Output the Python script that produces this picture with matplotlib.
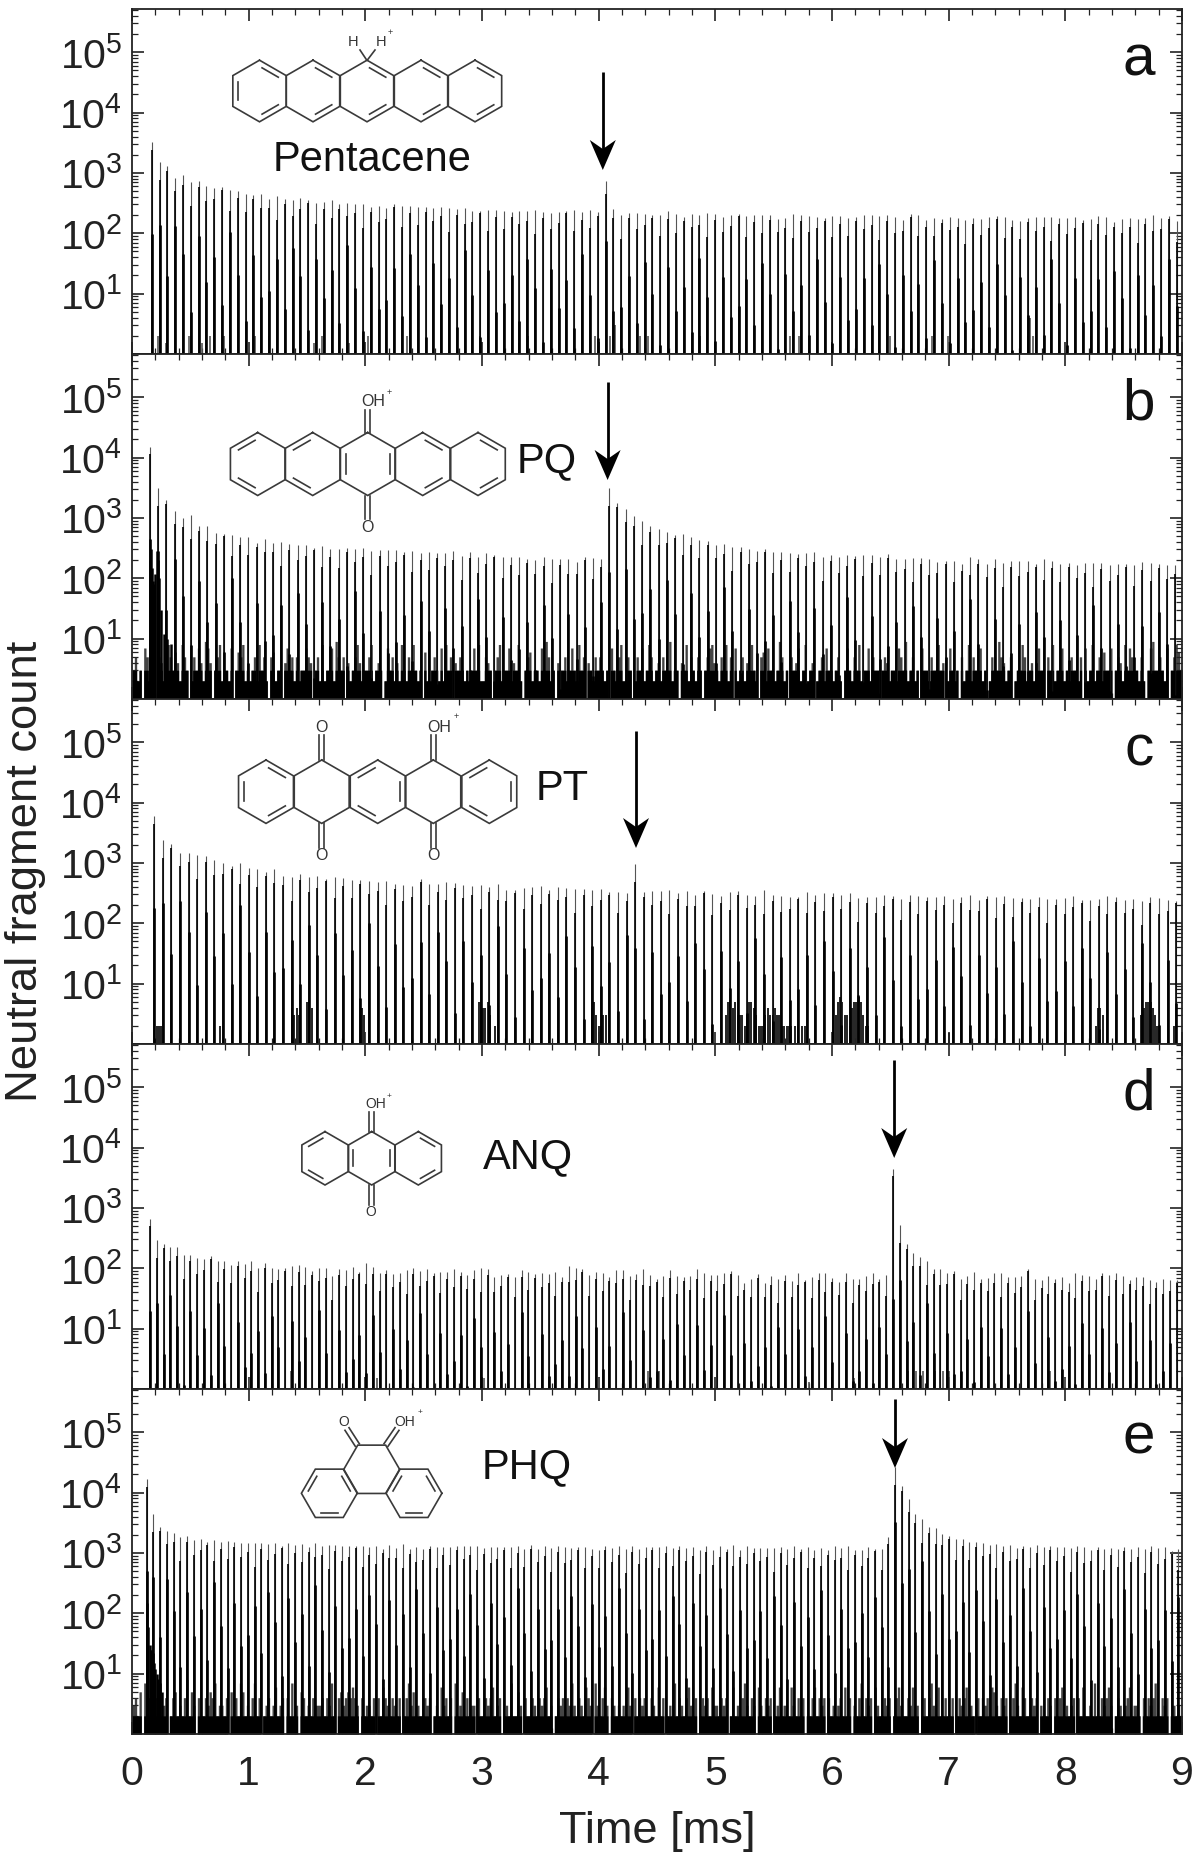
import numpy as np
import matplotlib
matplotlib.use('Agg')
import matplotlib.pyplot as plt
from matplotlib.ticker import LogLocator, MultipleLocator, NullFormatter

plt.rcParams['font.family'] = ['Liberation Sans', 'DejaVu Sans']
plt.rcParams['mathtext.fontset'] = 'custom'
plt.rcParams['mathtext.rm'] = 'Liberation Sans'
plt.rcParams['mathtext.default'] = 'regular'

# peak positions [ms] and heights
a_times = [.169,.236,.303,.370,.437,.504,.571,.638,.705,.772,.840,.907,.974,1.041,1.108,1.175,1.242,1.309,1.376,1.443,
           1.510,1.577,1.644,1.711,1.778,1.845,1.913,1.980,2.047,2.114,2.181,2.248,2.315,2.382,2.449,2.516,2.583,2.650,2.717,2.784,
           2.851,2.918,2.986,3.053,3.120,3.187,3.254,3.321,3.388,3.455,3.522,3.589,3.656,3.723,3.790,3.857,3.924,3.991,4.059,4.126,
           4.193,4.260,4.327,4.394,4.461,4.528,4.595,4.662,4.729,4.796,4.863,4.930,4.997,5.064,5.132,5.199,5.266,5.333,5.400,5.467,
           5.534,5.601,5.668,5.735,5.802,5.869,5.936,6.003,6.070,6.137,6.205,6.272,6.339,6.406,6.473,6.540,6.607,6.674,6.741,6.808,
           6.875,6.942,7.009,7.076,7.143,7.210,7.278,7.345,7.412,7.479,7.546,7.613,7.680,7.747,7.814,7.881,7.948,8.015,8.082,8.149,
           8.216,8.283,8.351,8.418,8.485,8.552,8.619,8.686,8.753,8.820,8.887,8.954]
a_counts = [3230,1500,1290,830,910,720,740,616,570,580,525,505,445,430,445,370,410,375,355,390,
            355,315,335,355,300,317,310,305,277,280,263,300,280,284,273,270,266,273,260,253,
            263,238,238,247,244,232,223,238,232,247,223,217,229,238,244,223,241,226,740,
            256,204,220,215,212,198,204,232,206,185,209,198,217,209,188,204,212,196,204,204,
            198,173,176,209,198,191,185,180,191,191,180,188,198,198,191,201,185,167,209,204,
            167,180,172,188,180,167,180,172,185,193,188,167,158,180,185,185,185,176,176,185,
            167,172,191,185,151,170,180,170,176,198,180,191,158]

b_times = [.154,.224,.295,.365,.435,.506,.576,.646,.716,.787,.857,.927,.998,1.068,1.138,1.209,1.279,1.349,1.419,1.490,
           1.560,1.630,1.701,1.771,1.841,1.912,1.982,2.052,2.122,2.193,2.263,2.333,2.404,2.474,2.544,2.615,2.685,2.755,2.825,2.896,
           2.966,3.036,3.107,3.177,3.247,3.318,3.388,3.458,3.528,3.599,3.669,3.739,3.810,3.880,3.950,4.021,4.091,4.161,4.231,4.302,
           4.372,4.442,4.513,4.583,4.653,4.724,4.794,4.864,4.934,5.005,5.075,5.145,5.216,5.286,5.356,5.427,5.497,5.567,5.637,5.708,
           5.778,5.848,5.919,5.989,6.059,6.130,6.200,6.270,6.340,6.411,6.481,6.551,6.622,6.692,6.762,6.833,6.903,6.973,7.043,7.114,
           7.184,7.254,7.325,7.395,7.465,7.536,7.606,7.676,7.746,7.817,7.887,7.957,8.028,8.098,8.168,8.239,8.309,8.379,8.449,8.520,
           8.590,8.660,8.731,8.801,8.871,8.942]
b_counts = [15000,3100,1990,1320,1000,1120,745,745,565,550,515,475,490,388,450,388,398,367,360,355,
            323,337,304,300,316,305,316,282,290,290,290,272,282,265,272,258,265,282,233,272,
            225,265,246,225,222,225,208,198,225,206,211,211,184,225,219,206,3170,
            1780,1420,1060,880,740,650,590,520,535,480,430,415,355,365,330,335,308,288,303,276,
            270,258,253,262,270,226,244,226,244,236,242,240,226,253,210,205,220,215,210,185,
            195,190,174,226,205,174,210,176,195,195,195,172,210,195,172,178,167,176,178,178,
            167,172,174,167,183,178,172,163,167]

c_times = [.191,.265,.338,.412,.485,.559,.633,.706,.780,.853,.927,1.001,1.074,1.148,1.221,1.295,1.369,1.442,1.516,1.589,
           1.663,1.737,1.810,1.884,1.957,2.031,2.105,2.178,2.252,2.325,2.399,2.473,2.546,2.620,2.693,2.767,2.841,2.914,2.988,3.061,
           3.135,3.209,3.282,3.356,3.429,3.503,3.577,3.650,3.724,3.797,3.871,3.945,4.018,4.092,4.165,4.239,4.313,4.386,4.460,4.533,
           4.607,4.681,4.754,4.828,4.901,4.975,5.049,5.122,5.196,5.269,5.343,5.417,5.490,5.564,5.637,5.711,5.785,5.858,5.932,6.005,
           6.079,6.153,6.226,6.300,6.373,6.447,6.521,6.594,6.668,6.741,6.815,6.889,6.962,7.036,7.109,7.183,7.257,7.330,7.404,7.477,
           7.551,7.625,7.698,7.772,7.845,7.919,7.993,8.066,8.140,8.213,8.287,8.361,8.434,8.508,8.581,8.655,8.729,8.802,8.876,8.949]
c_counts = [5900,2400,2060,1460,1460,1340,1290,1135,1000,890,990,835,795,718,785,617,594,660,594,600,
            550,578,563,524,524,505,484,510,454,432,421,537,447,447,478,460,432,421,432,405,
            447,356,356,390,395,410,356,405,385,376,365,356,372,326,326,318,963,
            326,340,340,357,315,348,298,348,306,287,336,340,298,287,357,298,280,270,276,331,
            298,318,318,292,322,258,270,270,298,283,253,298,280,276,276,283,253,270,298,247,
            283,270,283,258,262,250,270,253,253,262,283,243,247,253,280,270,247,250,238,270,
            258,247,238]

d_times = [.154,.212,.270,.328,.386,.444,.501,.559,.617,.675,.733,.791,.849,.907,.965,1.023,1.080,1.138,1.196,1.254,
           1.312,1.370,1.428,1.486,1.544,1.602,1.659,1.717,1.775,1.833,1.891,1.949,2.007,2.065,2.123,2.181,2.238,2.296,2.354,2.412,
           2.470,2.528,2.586,2.644,2.702,2.760,2.817,2.875,2.933,2.991,3.049,3.107,3.165,3.223,3.281,3.339,3.396,3.454,3.512,3.570,
           3.628,3.686,3.744,3.802,3.860,3.918,3.975,4.033,4.091,4.149,4.207,4.265,4.323,4.381,4.439,4.497,4.554,4.612,4.670,4.728,
           4.786,4.844,4.902,4.960,5.018,5.076,5.133,5.191,5.249,5.307,5.365,5.423,5.481,5.539,5.597,5.655,5.712,5.770,5.828,5.886,
           5.944,6.002,6.060,6.118,6.176,6.234,6.291,6.349,6.407,6.465,6.523,6.581,6.639,6.697,6.755,6.813,6.870,6.928,6.986,7.044,
           7.102,7.160,7.218,7.276,7.334,7.392,7.449,7.507,7.565,7.623,7.681,7.739,7.797,7.855,7.913,7.971,8.028,8.086,8.144,8.202,
           8.260,8.318,8.376,8.434,8.492,8.550,8.607,8.665,8.723,8.781,8.839,8.897,8.955]
d_counts = [665,298,255,224,224,168,164,147,145,158,131,131,113,130,116,130,102,124,102,99,101,111,115,105,90,102,
            100,75,96,94,104,88,121,107,83,94,81,85,94,100,91,96,83,86,88,98,88,76,94,100,96,73,78,81,73,94,
            88,81,83,81,88,73,109,100,96,76,88,85,73,94,94,75,81,96,78,
            67,75,93,74,72,74,96,82,77,76,85,91,77,58,67,80,56,75,67,77,61,82,65,72,85,82,70,60,85,67,67,75,84,67,77,
            4490,530,250,182,154,132,99,96,84,89,67,74,87,67,70,82,85,72,72,75,99,67,63,74,67,72,57,82,78,75,67,
            84,77,84,74,65,72,72,65,60,67,65,63]

e_times = [.126,.184,.242,.299,.357,.415,.473,.531,.588,.646,.704,.762,.820,.877,.935,.993,1.051,1.109,1.166,1.224,
           1.282,1.340,1.398,1.455,1.513,1.571,1.629,1.687,1.744,1.802,1.860,1.918,1.976,2.033,2.091,2.149,2.207,2.265,2.322,2.380,
           2.438,2.496,2.554,2.611,2.669,2.727,2.785,2.843,2.900,2.958,3.016,3.074,3.132,3.189,3.247,3.305,3.363,3.421,3.478,3.536,
           3.594,3.652,3.710,3.767,3.825,3.883,3.941,3.999,4.056,4.114,4.172,4.230,4.288,4.345,4.403,4.461,4.519,4.577,4.634,4.692,
           4.750,4.808,4.866,4.923,4.981,5.039,5.097,5.155,5.212,5.270,5.328,5.386,5.444,5.501,5.559,5.617,5.675,5.733,5.790,5.848,
           5.906,5.964,6.022,6.079,6.137,6.195,6.253,6.311,6.368,6.426,6.484,6.542,6.600,6.657,6.715,6.773,6.831,6.889,6.946,7.004,
           7.062,7.120,7.178,7.235,7.293,7.351,7.409,7.467,7.524,7.582,7.640,7.698,7.756,7.813,7.871,7.929,7.987,8.045,8.102,8.160,
           8.218,8.276,8.334,8.391,8.449,8.507,8.565,8.623,8.680,8.738,8.796,8.854,8.912,8.969]
e_counts = [16800,4430,2700,2340,2150,1840,1890,1660,1700,1520,1660,1540,1560,1500,1450,1465,1465,1450,1395,1450,
            1320,1465,1340,1395,1240,1450,1320,1340,1340,1320,1320,1320,1305,1255,1320,1180,1375,1195,1395,1180,
            1270,1165,1290,1255,1255,1240,1305,1305,1305,1290,1210,1255,1240,1255,1255,1320,1180,1360,1165,1290,
            1210,1290,1255,1195,1240,1255,1180,1105,1305,1195,1320,1165,
            1290,1180,1255,1240,1240,1320,1225,1320,1210,1255,1135,1320,1135,1320,1150,1360,1120,1305,1195,1225,
            1225,1210,1270,1165,1290,1165,1255,1105,1225,1105,1290,1195,1305,1135,
            1105,1255,1180,1165,1840,27000,12700,7850,4430,3660,2700,2600,2060,1890,1710,1710,1500,1500,1465,1375,
            1420,1320,1340,1210,1290,1255,1340,1255,1320,1240,1255,1225,1290,1255,1135,1240,1165,1210,1165,1255,
            1165,1240,1165,1320,1195,1240,1070,1180]

# background counts in panels b and e, one digit per 0.02 ms bin
b_floor = ("3523175283 1542385364 2853125374 2974135823 3271365823"
           "2352835215 6233147352 5233754135 2823372953 5142358423"
           "3582343127 3524283253 8323162235 3272835143 5323237382"
           "2543135823 3724382135 6233273952 3143352373 2835143253"
           "5323173258 2253125372 3852342533 9233143825 3253135784"
           "3253825172 3524383215 6273323952 3153472382 3412352733"
           "2352137325 3823372533 1354233275 3923523173 3253383412"
           "7323152382 5337231253 3954235123 3852342473 3153823372"
           "3253325172 3823526337 1354283753 3252137933 5327135863").replace(' ', '')
e_floor = ("3425172435 4623412452 3248253142 2435472332 4152427523"
           "2472412342 3623414272 3154232433 3424372145 3454643142"
           "3324142643 2432412473 5232243412 3263424172 3524233142"
           "2434623412 3272253142 2432434623 1243424373 2432643173"
           "2463143232 3263142434 2243262412 3272432463 2412434263"
           "3243412623 2473243163 2434123623 3263242412 2462434142"
           "3234262413 2472434163 2243412463 2243623124 2473262242"
           "2412434623 2142434265 3243412473 2642243413 2243142462"
           "3234142622 3272243463 1243234623 3214243472 2434123232").replace(' ', '')

# burst of background just after injection
b_burst_t = [.15,.16,.17,.18,.19,.20,.21,.22,.23,.25,.27,.30,.33]
b_burst_c = [200,300,150,90,80,120,280,200,100,30,12,10,8]
e_burst_t = [.13,.14,.15,.16,.17,.18,.19,.20,.21,.22,.24,.26]
e_burst_c = [150,60,30,25,25,22,15,12,10,8,7,5]

# scattered low counts in panels a, c, d
a_noise_t = [.22,.29,.49,.60,.67,.79,.98,1.05,1.17,1.56,1.63,1.86,2.02,2.36,2.98,3.32,3.39,3.97,4.10,4.14,4.35,4.42,4.87,5.64,5.72,6.50,6.86,6.99,7.68,7.70,7.72,8.22]
a_noise_c = [2,1.5,2,1.5,2,2,1.4,2,2,1.5,2,1.5,2,2,2,1.5,2,2,2,3,2,2,2,2,2,2,2,2,2,4,2,2]
c_noise_t = [.21,.23,.25,.75,1.37,1.39,1.41,1.43,1.50,1.52,1.54,1.97,1.99,2.97,2.99,3.01,3.03,3.05,3.07,3.11,
             3.94,3.96,3.98,4.00,4.02,4.04,4.06,5.09,5.11,5.13,5.15,5.17,5.19,5.21,5.23,5.25,5.27,5.29,5.31,5.33,
             5.35,5.37,5.39,5.41,5.43,5.45,5.47,5.49,5.51,5.53,5.55,5.57,5.59,5.61,5.63,5.65,5.68,5.71,5.74,5.77,
             6.03,6.05,6.07,6.09,6.11,6.13,6.15,6.17,6.19,6.21,6.23,6.25,6.27,6.29,6.31,7.00,8.26,8.28,8.30,8.32,
             8.65,8.67,8.69,8.71,8.73,8.75,8.77,8.79,8.93]
c_noise_c = [2,2,2,2,4,3,4,3,5,5,4,4,3,5,5,4,4,5,3,2,
             4,5,3,2,2,3,3,3,5,5,4,5,3,3,3,2,3,5,5,4,
             3,2,2,2,3,4,3,3,4,3,3,2,2,2,2,2,2,2,2,2,
             3,5,6,5,3,3,2,4,5,5,6,5,3,2,2,1.5,2,4,4,3,
             3,4,5,5,5,4,3,2,2]
d_noise_t = [1.01,1.36,2.10,3.02,4.00,4.42,4.52,5.80,6.19,6.65,6.72,6.78,6.88,6.95,7.00,7.87,8.00]
d_noise_c = [1.5,2,1.5,1.5,1.5,2,2,1.3,1.5,2,2,2,2,2,2,2,1.5]

panel_letters = ['a', 'b', 'c', 'd', 'e']
letter_baselines = [76, 419, 766, 1109, 1453]
x_ticks = [0, 1, 2, 3, 4, 5, 6, 7, 8, 9]
y_ticks = [10, 100, 1000, 10000, 100000]

# how far up a peak the black stem and its wider foot reach, as a share of the peak
stem_share = [.75,.5,.85,.6,.7,.4,.8,.55,.65,.9,.45]
foot_share = [.03,.09,.015,.16,.05,.007,.12,.025,.07,.011,.2,.04,.008,.1,.02]

W, H = 1200, 1862
AX_L, AX_R = 132, 1182
AX_TOP, PANEL_H = 9, 345
INK = '#222222'

fig = plt.figure(figsize=(W / 100, H / 100), dpi=100, facecolor='white')


def draw_peaks(ax, times, counts):
    times = np.array(times)
    counts = np.array(counts, dtype=float)
    stem = counts * np.resize(stem_share, len(counts))
    foot = np.maximum(counts * np.resize(foot_share, len(counts)), 1)
    ax.vlines(times, 1, counts, color='#555555', lw=0.8, zorder=3)
    ax.vlines(times, 1, stem, color='black', lw=1.2, zorder=3)
    ax.vlines(times, 1, foot, color='black', lw=1.9, zorder=3)


def draw_floor(ax, digits, black_cap):
    vals = np.array([int(d) for d in digits], dtype=float)
    edges = np.linspace(0, 9, len(vals) + 1)
    vals = np.r_[vals, vals[-1]]
    ax.fill_between(edges, 1, vals, step='post', color='#444444', lw=0, zorder=1)
    ax.fill_between(edges, 1, np.minimum(vals, black_cap), step='post', color='black', lw=0, zorder=2)


series = [(a_times, a_counts), (b_times, b_counts), (c_times, c_counts),
          (d_times, d_counts), (e_times, e_counts)]
axes = []
for i, (tt, cc) in enumerate(series):
    top = AX_TOP + i * PANEL_H
    ax = fig.add_axes([AX_L / W, 1 - (top + PANEL_H) / H, (AX_R - AX_L) / W, PANEL_H / H])
    draw_peaks(ax, tt, cc)
    ax.set_xlim(0, 9)
    ax.set_yscale('log')
    ax.set_ylim(1, 5.2e5)
    ax.set_xticks(x_ticks)
    ax.xaxis.set_minor_locator(MultipleLocator(0.2))
    ax.set_yticks(y_ticks)
    ax.yaxis.set_minor_locator(LogLocator(base=10, subs=np.arange(2, 10), numticks=12))
    ax.yaxis.set_minor_formatter(NullFormatter())
    ax.tick_params(which='major', direction='in', length=8.6, width=1.2, top=True, right=True,
                   color=INK, labelcolor=INK, labelsize=29.5)
    ax.tick_params(which='minor', direction='in', length=4.2, width=0.9, top=True, right=True, color=INK)
    ax.tick_params(axis='y', which='major', pad=7)
    ax.tick_params(axis='x', which='major', pad=15, labelbottom=(i == 4))
    for s in ax.spines.values():
        s.set_linewidth(1.3)
        s.set_color(INK)
        s.set_zorder(5)
    axes.append(ax)

draw_floor(axes[1], b_floor, 3)
draw_floor(axes[4], e_floor, 2)
axes[1].vlines(b_burst_t, 1, b_burst_c, color='black', lw=1.8, zorder=2)
axes[4].vlines(e_burst_t, 1, e_burst_c, color='black', lw=1.8, zorder=2)
axes[0].vlines(a_noise_t, 1, a_noise_c, color='#555555', lw=1.2, zorder=2)
axes[2].vlines(c_noise_t, 1, c_noise_c, color='#222222', lw=1.4, zorder=2)
axes[3].vlines(d_noise_t, 1, d_noise_c, color='#555555', lw=1.2, zorder=2)

# overlay in pixel coordinates for the structures, arrows and labels
ov = fig.add_axes([0, 0, 1, 1], zorder=10)
ov.set_xlim(0, W)
ov.set_ylim(H, 0)
ov.axis('off')
ov.patch.set_alpha(0)
ov.autoscale(False)

BOND = '#3a3a3a'
BOND_W = 1.2


def ring(cx, cy, r, start, doubles):
    ang = np.radians(start + 60 * np.arange(7))
    vx = cx + r * np.cos(ang)
    vy = cy + r * np.sin(ang)
    ov.plot(vx, vy, color=BOND, lw=BOND_W, solid_joinstyle='miter')
    for e in doubles:
        px = cx + 0.8 * r * np.cos(ang[e:e + 2])
        py = cy + 0.8 * r * np.sin(ang[e:e + 2])
        # inner stroke stops a little short of the corners
        ov.plot([px[0] + 0.12 * (px[1] - px[0]), px[1] - 0.12 * (px[1] - px[0])],
                [py[0] + 0.12 * (py[1] - py[0]), py[1] - 0.12 * (py[1] - py[0])],
                color=BOND, lw=BOND_W)


def carbonyl(x0, y0, x1, y1):
    # two parallel strokes for C=O
    dx, dy = x1 - x0, y1 - y0
    n = np.hypot(dx, dy)
    ox, oy = -dy / n * 2.4, dx / n * 2.4
    ov.plot([x0 + ox, x1 + ox], [y0 + oy, y1 + oy], color=BOND, lw=BOND_W)
    ov.plot([x0 - ox, x1 - ox], [y0 - oy, y1 - oy], color=BOND, lw=BOND_W)


def atom(x, y, s, size):
    ov.text(x, y, s, ha='center', va='center', fontsize=size, color='#333333')


def name(x, y, s):
    ov.text(x, y, s, ha='center', va='center', fontsize=30, color='#111111')


def arrow(x, y0, y1):
    ov.plot([x, x], [y0, y1 - 14], color='black', lw=2.0, solid_capstyle='butt')
    ov.fill([x, x - 13, x, x + 13], [y1, y1 - 30, y1 - 21, y1 - 30], color='black', lw=0)


# a: pentacene
for cx, dbl in [(259.5, [0, 2, 4]), (313, [0, 2]), (367, [0, 2]), (421, [0, 2]), (475, [0, 2])]:
    ring(cx, 91, 30.8, -90, dbl)
ov.plot([360, 367, 375], [50, 60.5, 50], color=BOND, lw=BOND_W)
atom(353, 42, 'H', 10.5)
atom(381, 42, 'H', 10.5)
atom(390, 32, '+', 6.5)
name(372, 160, 'Pentacene')

# b: pentacenequinone
for cx, dbl in [(257.7, [5, 3]), (312.7, [5, 3]), (367.7, [4, 1]), (422.7, [0, 2]), (478, [0, 2])]:
    ring(cx, 464, 31.5, -90, dbl)
carbonyl(367.7, 432.5, 367.7, 410)
carbonyl(367.7, 495.5, 367.7, 519)
atom(373, 402, 'OH', 11.5)
atom(389, 392, '+', 6.5)
atom(367.5, 528, 'O', 11.5)
name(547, 461, 'PQ')

# c: pentacenetetrone
for cx, dbl in [(266, [0, 2, 4]), (321.7, []), (377.7, [5, 3, 1]), (433.3, []), (489.3, [5, 3, 1])]:
    ring(cx, 791.7, 31.7, -90, dbl)
for cx in (321.7, 433.3):
    carbonyl(cx, 760, cx, 735)
    carbonyl(cx, 823.4, cx, 848)
    atom(cx, 856, 'O', 11.5)
atom(321.7, 727, 'O', 11.5)
atom(439, 727, 'OH', 11.5)
atom(455.7, 717, '+', 6.5)
name(562, 789, 'PT')

# d: anthraquinone
for cx, dbl in [(325, [5, 3]), (371.7, [4, 1]), (418.3, [0, 2])]:
    ring(cx, 1158.3, 26.7, -90, dbl)
carbonyl(371.7, 1131.6, 371.7, 1112)
carbonyl(371.7, 1185, 371.7, 1205)
atom(376, 1104.3, 'OH', 10)
atom(389.3, 1096.7, '+', 6)
atom(371, 1212.3, 'O', 10)
name(528, 1157, 'ANQ')

# e: phenanthrenequinone
ring(329.3, 1493.3, 27.9, 0, [3, 1, 5])
ring(414, 1493.3, 27.9, 0, [5, 1, 3])
ring(371.7, 1469.3, 27.9, 0, [])
carbonyl(357.3, 1445, 347, 1429)
carbonyl(386, 1445, 397, 1429)
atom(343.5, 1421.7, 'O', 10)
atom(405, 1421.7, 'OH', 10)
atom(420, 1412.7, '+', 6)
name(527, 1467, 'PHQ')

arrow(602.8, 72, 170)
arrow(607.6, 382, 480)
arrow(636, 731, 848)
arrow(894.2, 1060, 1158)
arrow(895, 1399, 1468)

for s, yb in zip(panel_letters, letter_baselines):
    ov.text(1139, yb, s, ha='center', va='baseline', fontsize=42, color='#111111')

ov.text(657, 1843, 'Time [ms]', ha='center', va='baseline', fontsize=32.5, color=INK)
ov.text(26, 871, 'Neutral fragment count', ha='center', va='center', rotation=90, fontsize=32.7, color=INK)

fig.savefig('out.png', dpi=100, facecolor='white')
